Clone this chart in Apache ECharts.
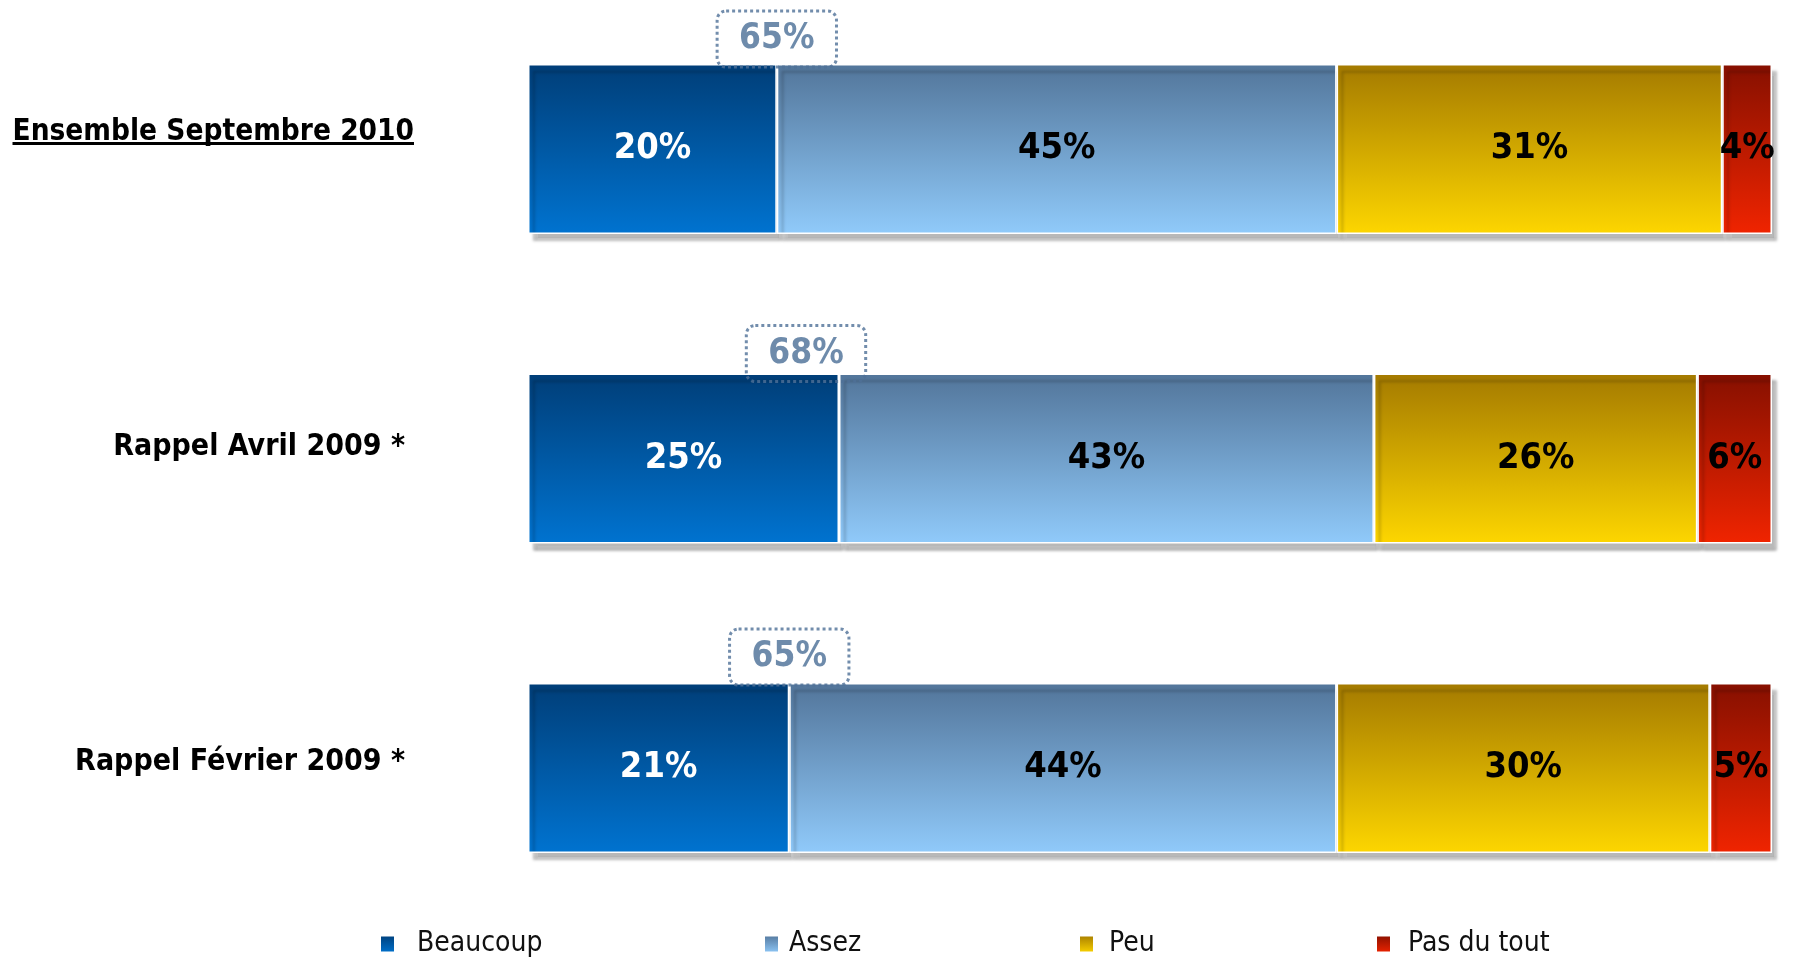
<!DOCTYPE html>
<html>
<head>
<meta charset="utf-8">
<script src="https://cdn.jsdelivr.net/npm/echarts@6/dist/echarts.min.js"></script>
<style>
html,body{margin:0;padding:0;background:#fff;}
#main{width:1793px;height:960px;}
</style>
</head>
<body>
<div id="main"></div>
<script>
// données
let categories = ['Ensemble Septembre 2010', 'Rappel Avril 2009 *', 'Rappel Février 2009 *'];
let series_names = ['Beaucoup', 'Assez', 'Peu', 'Pas du tout'];
let beaucoup = [20, 25, 21];
let assez = [45, 43, 44];
let peu = [31, 26, 30];
let pasDuTout = [4, 6, 5];
let totalBeaucoupAssez = [65, 68, 65];

let FONT = '"DejaVu Sans Condensed", "DejaVu Sans", sans-serif';

//dégradé vertical
function grad(top, bottom) {
    return new echarts.graphic.LinearGradient(0, 0, 0, 1, [
        {offset: 0, color: top},
        {offset: 1, color: bottom}
    ]);
}

function barSerie(name, data, top, bottom, labelColor) {
    return {
        name: name,
        type: 'bar',
        stack: 'total',
        barWidth: 170,
        clip: false,
        data: data,
        itemStyle: {
            color: grad(top, bottom),
            borderColor: '#fff',
            borderWidth: 1.5,
            shadowColor: 'rgba(0,0,0,0.28)',
            shadowBlur: 3,
            shadowOffsetX: 5,
            shadowOffsetY: 7
        },
        label: {
            show: true,
            position: 'inside',
            formatter: '{c}%',
            color: labelColor,
            fontFamily: FONT,
            fontWeight: 'bold',
            fontSize: 36
        },
        emphasis: {disabled: true}
    };
}

let myChart = echarts.init(document.getElementById('main'));

//petits décalages des encadrés (comme sur l'original)
let calloutDx = [0, -33, 0];
let calloutDy = [-110, -105, -111];
let calloutData = [];
for (let i = 0; i < categories.length; i++) {
    calloutData.push({
        value: [beaucoup[i], i],
        total: totalBeaucoupAssez[i],
        label: {offset: [calloutDx[i], calloutDy[i]]}
    });
}

//légendes séparées pour garder les écarts de l'original
let legendLeft = [374, 758, 1073, 1370];
let legendPad = [17, 5, 10, 12];
let legends = [];
for (let i = 0; i < series_names.length; i++) {
    legends.push({
        data: [series_names[i]],
        left: legendLeft[i],
        top: 925,
        itemWidth: 15,
        itemHeight: 17,
        icon: 'rect',
        selectedMode: false,
        textStyle: {fontFamily: FONT, fontSize: 28, color: '#111', padding: [0, 0, 0, legendPad[i]]}
    });
}

let option = {
    animation: false,
    // catégories posées sur les bords : centre des barres en haut/bas de la grille
    grid: {left: 528, right: 21, top: 149, height: 619},
    legend: legends,
    xAxis: {type: 'value', min: 0, max: 100, show: false},
    yAxis: {
        type: 'category',
        data: categories,
        inverse: true,
        boundaryGap: false,
        axisLine: {show: false},
        axisTick: {show: false},
        splitLine: {show: false},
        axisLabel: {
            margin: 114,
            formatter: function (value, index) {
                let st = index == 0 ? 'u' : 't';
                return '{' + st + '|' + value + '}\n{s' + index + '| }';
            },
            rich: {
                u: {fontFamily: FONT, fontWeight: 'bold', fontSize: 29.5, color: '#000', lineHeight: 36},
                t: {fontFamily: FONT, fontWeight: 'bold', fontSize: 30, color: '#000', lineHeight: 36, padding: [0, 9, 0, 0]},
                s0: {fontSize: 2, lineHeight: 34},
                s1: {fontSize: 2, lineHeight: 22},
                s2: {fontSize: 2, lineHeight: 12}
            }
        }
    },
    series: [
        barSerie('Beaucoup', beaucoup, '#003E78', '#0073D0', '#fff'),
        barSerie('Assez', assez, '#52759A', '#90CAFA', '#000'),
        barSerie('Peu', peu, '#A47A00', '#FDD600', '#000'),
        barSerie('Pas du tout', pasDuTout, '#861000', '#F02400', '#000'),
        {
            name: 'total',
            type: 'scatter',
            symbolSize: 0,
            z: 10,
            clip: false,
            data: calloutData,
            label: {
                show: true,
                position: 'inside',
                formatter: function (p) { return p.data.total + '%'; },
                color: '#4A6E96',
                fontFamily: FONT,
                fontWeight: 'bold',
                fontSize: 35,
                lineHeight: 36,
                backgroundColor: 'rgba(255,255,255,0)',
                borderColor: '#4F7197',
                borderWidth: 1.5,
                borderType: 'dotted',
                borderRadius: 9,
                padding: [10, 22, 10, 22]
            },
            emphasis: {disabled: true}
        }
    ]
};

myChart.setOption(option);

//souligner le premier libellé
let ctx = document.createElement('canvas').getContext('2d');
ctx.font = 'bold 29.5px ' + FONT;
let w = ctx.measureText(categories[0]).width;
let yc = myChart.convertToPixel({yAxisIndex: 0}, categories[0]);
myChart.setOption({
    graphic: [{
        type: 'rect',
        shape: {x: 528 - 114 - w, y: yc - 20 + 13, width: w, height: 3},
        style: {fill: '#000'}
    }]
});
</script>
</body>
</html>
